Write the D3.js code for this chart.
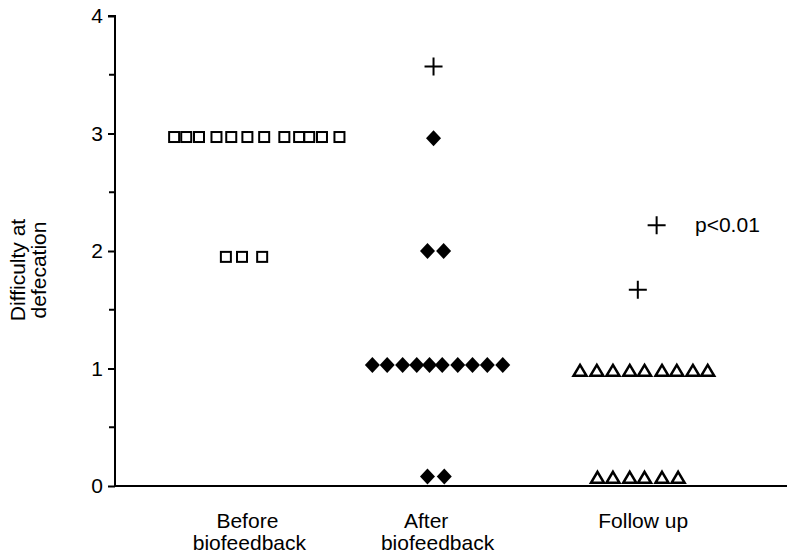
<!DOCTYPE html>
<html>
<head>
<meta charset="utf-8">
<script src="https://cdn.jsdelivr.net/npm/d3@7"></script>
<style>
  body { margin: 0; background: #fff; }
  text { font-family: "Liberation Sans", Arial, sans-serif; fill: #000; }
</style>
</head>
<body>
<svg id="chart"></svg>
<script>
// Dimensions
const width = 787;
const height = 553;

const margin = { top: 16, right: 0, bottom: 67, left: 115 };

// Data (x = position along the horizontal scale, y = difficulty score)
const beforeX = [0.88, 1.06, 1.25, 1.51, 1.73, 1.97, 2.22, 2.52, 2.74, 2.89, 3.08, 3.34, 1.65, 1.89, 2.19];
const beforeY = [2.97, 2.97, 2.97, 2.97, 2.97, 2.97, 2.97, 2.97, 2.97, 2.97, 2.97, 2.97, 1.95, 1.95, 1.95];

const afterX = [4.74, 4.65, 4.89, 3.83, 4.05, 4.28, 4.49, 4.68, 4.87, 5.10, 5.32, 5.54, 5.77, 4.65, 4.90];
const afterY = [2.96, 2.0, 2.0, 1.03, 1.03, 1.03, 1.03, 1.03, 1.03, 1.03, 1.03, 1.03, 1.03, 0.08, 0.08];

const followX = [6.92, 7.17, 7.41, 7.66, 7.88, 8.14, 8.36, 8.60, 8.82, 7.18, 7.41, 7.66, 7.88, 8.14, 8.38];
const followY = [0.98, 0.98, 0.98, 0.98, 0.98, 0.98, 0.98, 0.98, 0.98, 0.07, 0.07, 0.07, 0.07, 0.07, 0.07];

// means (+)
const meanX = [4.74, 7.78, 8.06];
const meanY = [3.57, 1.67, 2.22];

// group labels, one x per text line
const groupLabels = [["Before", "biofeedback"], ["After", "biofeedback"], ["Follow up"]];
const groupLabelX = [[1.97, 2.0], [4.63, 4.8], [7.86]];

const yTicks = [0, 1, 2, 3, 4];
const yMinorTicks = [0.5, 1.5, 2.5, 3.5];

const fontSize = "21px";

const svg = d3.select("#chart")
    .attr("width", width)
    .attr("height", height);

const x = d3.scaleLinear()
    .domain([0, 10])
    .range([margin.left, width - margin.right]);

const y = d3.scaleLinear()
    .domain([0, 4])
    .range([height - margin.bottom, margin.top]);

// y axis
const yAxis = svg.append("g")
    .attr("transform", `translate(${margin.left},0)`)
    .call(d3.axisLeft(y).tickValues(yTicks).tickFormat(d3.format("d")).tickSize(7).tickPadding(5));
yAxis.select(".domain").attr("d", `M-7,${y(4)}H0V${y(0)}`).attr("stroke-width", 2);
yAxis.selectAll(".tick line").attr("stroke-width", 2);
yAxis.selectAll(".tick text").style("font-size", fontSize).attr("font-family", null);

svg.append("g")
    .selectAll("line")
    .data(yMinorTicks)
    .join("line")
    .attr("x1", margin.left - 6)
    .attr("x2", margin.left)
    .attr("y1", d => y(d))
    .attr("y2", d => y(d))
    .attr("stroke", "#000")
    .attr("stroke-width", 2);

// x axis line
svg.append("line")
    .attr("x1", x(0))
    .attr("x2", x(10))
    .attr("y1", y(0))
    .attr("y2", y(0))
    .attr("stroke", "#000")
    .attr("stroke-width", 2);

// axis label
svg.append("text")
    .attr("transform", "translate(25,270) rotate(-90)")
    .attr("text-anchor", "middle")
    .style("font-size", fontSize)
    .selectAll("tspan")
    .data(["Difficulty at", "defecation"])
    .join("tspan")
    .attr("x", 0)
    .attr("dy", (d, i) => i === 0 ? 0 : "1.0em")
    .text(d => d);

// group labels
groupLabels.forEach((lines, i) => {
    svg.append("text")
        .attr("y", 528)
        .attr("text-anchor", "middle")
        .style("font-size", fontSize)
        .selectAll("tspan")
        .data(lines)
        .join("tspan")
        .attr("x", (d, j) => x(groupLabelX[i][j]))
        .attr("dy", (d, j) => j === 0 ? 0 : "1.05em")
        .text(d => d);
});

// before: open squares
svg.append("g")
    .selectAll("rect")
    .data(beforeX.map((d, i) => [d, beforeY[i]]))
    .join("rect")
    .attr("x", d => x(d[0]) - 5)
    .attr("y", d => y(d[1]) - 5)
    .attr("width", 10)
    .attr("height", 10)
    .attr("fill", "none")
    .attr("stroke", "#000")
    .attr("stroke-width", 2);

// after: filled diamonds
svg.append("g")
    .selectAll("path")
    .data(afterX.map((d, i) => [d, afterY[i]]))
    .join("path")
    .attr("transform", d => `translate(${x(d[0])},${y(d[1])})`)
    .attr("d", "M0,-8L7.5,0L0,8L-7.5,0Z")
    .attr("fill", "#000");

// follow up: open triangles
svg.append("g")
    .selectAll("path")
    .data(followX.map((d, i) => [d, followY[i]]))
    .join("path")
    .attr("transform", d => `translate(${x(d[0])},${y(d[1])})`)
    .attr("d", "M0,-6L6.5,5L-6.5,5Z")
    .attr("fill", "none")
    .attr("stroke", "#000")
    .attr("stroke-width", 2.5)
    .attr("stroke-linejoin", "miter");

// means: plus signs
svg.append("g")
    .selectAll("path")
    .data(meanX.map((d, i) => [d, meanY[i]]))
    .join("path")
    .attr("transform", d => `translate(${x(d[0])},${y(d[1])})`)
    .attr("d", "M-9,0H9M0,-9V9")
    .attr("stroke", "#000")
    .attr("stroke-width", 2);

svg.append("text")
    .attr("x", 695)
    .attr("y", 232)
    .style("font-size", fontSize)
    .text("p<0.01");
</script>
</body>
</html>
